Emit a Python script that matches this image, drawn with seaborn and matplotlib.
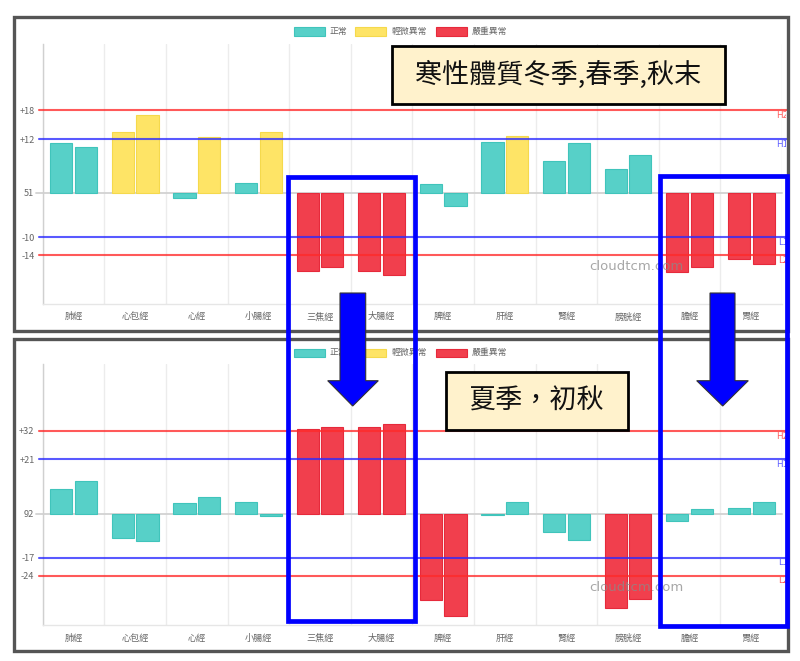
import numpy as np
import pandas as pd
import matplotlib
matplotlib.use("Agg")
import matplotlib.pyplot as plt
from matplotlib.patches import Rectangle, Polygon
from matplotlib.transforms import blended_transform_factory, ScaledTranslation
import seaborn as sns

# ---------------- data ----------------
meridians = ['肺經', '心包經', '心經', '小腸經', '三焦經', '大腸經',
             '脾經', '肝經', '腎經', '膀胱經', '膽經', '胃經']
sides = ['左', '右']

top_left = [11.2, 13.6, -1.1, 2.2, -17.6, -17.6, 2.0, 11.4, 7.2, 5.2, -17.8, -14.8]
top_right = [10.2, 17.4, 12.5, 13.6, -16.7, -18.5, -3.0, 12.6, 11.2, 8.5, -16.6, -16.1]
top_thresholds = [18.5, 12, -10, -14]          # H2, H1, L1, L2
top_thresh_labels = ['+18', '+12', '-10', '-14']
top_zero_label = '51'
top_title = '寒性體質冬季,春季,秋末'

bot_left = [9.7, -9.4, 4.0, 4.6, 32.6, 33.4, -33.5, -0.5, -7.2, -36.4, -2.8, 2.1]
bot_right = [12.8, -10.4, 6.3, -0.9, 33.4, 34.8, -39.6, 4.5, -10.3, -33.1, 1.9, 4.5]
bot_thresholds = [32, 21, -17, -24]
bot_thresh_labels = ['+32', '+21', '-17', '-24']
bot_zero_label = '92'
bot_title = '夏季，初秋'

legend_labels = ['正常', '輕微異常', '嚴重異常']
line_names = ['H2', 'H1', 'L1', 'L2']
watermark = 'cloudtcm.com'

# ---------------- style ----------------
sns.set_theme(style='white')
plt.rcParams['font.family'] = ['Noto Sans CJK TC', 'DejaVu Sans']

FILL = ['#57d0c8', '#fee466', '#f13f4d']
EDGE = ['#40c4bb', '#f5d94c', '#e62a3b']
RED_LINE = '#ff2a2a'
BLUE_LINE = '#2a2aff'
LINE_COLORS = [RED_LINE, BLUE_LINE, BLUE_LINE, RED_LINE]
LABEL_COLORS = ['#ff5c5c', '#5c5cff', '#5c5cff', '#ff5c5c']
GRID = '#ececec'
TXT = '#666666'

W, H = 800, 661
fig = plt.figure(figsize=(W / 100, H / 100), dpi=100)
fig.patch.set_facecolor('white')


def fx(x):
    return x / W


def fy(y):
    return 1 - y / H


def axrect(x0, y0, x1, y1):
    return [fx(x0), fy(y1), fx(x1) - fx(x0), fy(y0) - fy(y1)]


def fig_rect(x0, y0, x1, y1, **kw):
    r = Rectangle((fx(x0), fy(y1)), fx(x1) - fx(x0), fy(y0) - fy(y1),
                  transform=fig.transFigure, **kw)
    fig.patches.append(r)
    return r


def status(v, thr):
    h2, h1, l1, l2 = thr
    if v > h2 or v < l2:
        return 2
    if v > h1 or v < l1:
        return 1
    return 0


def panel(y_top, y_bot, left_vals, right_vals, thr, thr_labels, zero_label,
          ylim, frame, title, title_box, legend_y, wm_y):
    # frame interior overlay (for clipped right-side labels)
    fx0, fy0, fx1, fy1 = frame
    ax = fig.add_axes(axrect(42.7, y_top, 782.1, y_bot))
    ax.set_facecolor('none')

    df = pd.DataFrame({
        'meridian': meridians * 2,
        'side': [sides[0]] * len(meridians) + [sides[1]] * len(meridians),
        'value': list(left_vals) + list(right_vals),
    })

    for b in np.arange(-0.5, len(meridians), 1.0):
        ax.axvline(b, color=GRID, lw=1.0, zorder=0)
    ax.axhline(0, xmin=-0.009, xmax=1, color='#d2d2d2', lw=1.3, zorder=1,
               clip_on=False)

    sns.barplot(data=df, x='meridian', y='value', hue='side', order=meridians,
                hue_order=sides, width=0.8, gap=0.1, errorbar=None,
                legend=False, ax=ax, zorder=2)
    for p in ax.patches:
        s = status(p.get_height(), thr)
        p.set_facecolor(FILL[s])
        p.set_edgecolor(EDGE[s])
        p.set_linewidth(0.8)

    for v, c in zip(thr, LINE_COLORS):
        ax.axhline(v, xmin=-0.005, xmax=1.0085, color=c, lw=1.5, alpha=0.78,
                   zorder=3, clip_on=False)

    ax.set_xlim(-0.5, len(meridians) - 0.5)
    ax.set_ylim(*ylim)
    ax.set_xlabel('')
    ax.set_ylabel('')
    ax.grid(False)

    ax.set_yticks([thr[0], thr[1], 0, thr[2], thr[3]])
    ax.set_yticklabels([thr_labels[0], thr_labels[1], zero_label,
                        thr_labels[2], thr_labels[3]])
    ax.tick_params(axis='y', length=0, labelsize=6.6, labelcolor=TXT, pad=6)

    ax.set_xticks(range(len(meridians)))
    ax.set_xticklabels(meridians)
    ax.set_xticks(np.arange(-0.5, len(meridians), 1.0), minor=True)
    ax.tick_params(axis='x', which='major', length=0, labelsize=6.6,
                   labelcolor=TXT, pad=6)
    ax.tick_params(axis='x', which='minor', length=5.5, width=1.0,
                   color=GRID, direction='out')

    for side in ['top', 'right']:
        ax.spines[side].set_visible(False)
    ax.spines['left'].set_color('#d0d0d0')
    ax.spines['left'].set_linewidth(1.0)
    ax.spines['bottom'].set_color('#e6e6e6')
    ax.spines['bottom'].set_linewidth(1.0)

    # overlay axes spanning frame interior to clip right-side line labels
    ov = fig.add_axes(axrect(fx0 + 1.5, fy0 + 1.5, fx1 - 1.5, fy1 - 1.5))
    ov.set_facecolor('none')
    ov.set_xticks([])
    ov.set_yticks([])
    for sp in ov.spines.values():
        sp.set_visible(False)
    tr = blended_transform_factory(fig.transFigure, ax.transData) + \
        ScaledTranslation(0, -5.3 / 100, fig.dpi_scale_trans)
    for v, name, c in zip(thr, line_names, LABEL_COLORS):
        ov.text(fx(788.5), v, name, transform=tr, ha='right', va='center',
                fontsize=6.3, color=c, family=['DejaVu Sans'], clip_on=True)

    # legend
    lx_box = [294, 355.3, 436]
    lx_txt = [330, 391.7, 471.7]
    for i, lab in enumerate(legend_labels):
        fig_rect(lx_box[i], legend_y - 4.2, lx_box[i] + 31, legend_y + 4.2,
                 facecolor=FILL[i], edgecolor=EDGE[i], lw=0.8, zorder=2)
        fig.text(fx(lx_txt[i]), fy(legend_y), lab, ha='left', va='center',
                 fontsize=6.4, color=TXT)

    # watermark
    fig.text(fx(636), fy(wm_y), watermark, ha='center', va='center',
             fontsize=9.5, color='#8a8a8a', alpha=0.75, family=['DejaVu Sans'],
             zorder=4)

    # title box
    bx0, by0, bx1, by1 = title_box
    fig_rect(bx0, by0, bx1, by1, facecolor='#fff2cc', edgecolor='black',
             lw=2.0, zorder=3)
    fig.text(fx((bx0 + bx1) / 2), fy((by0 + by1) / 2), title, ha='center',
             va='center', fontsize=19.5, color='#111111', zorder=4)

    # outer frame
    fig_rect(fx0, fy0, fx1, fy1, facecolor='none', edgecolor='#555555',
             lw=2.4, zorder=5)
    return ax


panel(44, 304, top_left, top_right, top_thresholds, top_thresh_labels,
      top_zero_label, (-24.96, 33.34), (14.3, 16.7, 787.8, 330.5),
      top_title, (391.7, 46, 725, 104.3), 31.7, 267)

panel(364.3, 625.3, bot_left, bot_right, bot_thresholds, bot_thresh_labels,
      bot_zero_label, (-43.2, 57.77), (14.3, 338.7, 788.3, 651),
      bot_title, (445.7, 372.3, 628.3, 430), 352.8, 587.3)

# blue highlight rectangles
fig_rect(288.3, 176.5, 415, 621, facecolor='none', edgecolor='#0000ff',
         lw=3.4, zorder=6)
fig_rect(659.7, 176.3, 786.7, 626.3, facecolor='none', edgecolor='#0000ff',
         lw=3.4, zorder=6)


# arrows
def arrow(cx, sx0, sx1, hx0, hx1, top, base, tip):
    pts = [(sx0, top), (sx1, top), (sx1, base), (hx1, base), (cx, tip),
           (hx0, base), (sx0, base)]
    poly = Polygon([(fx(x), fy(y)) for x, y in pts], closed=True,
                   transform=fig.transFigure, facecolor='#0000ff',
                   edgecolor='#333333', lw=0.8, zorder=7)
    fig.patches.append(poly)


arrow(352.7, 340, 365.7, 327.7, 378.3, 293, 380.7, 406)
arrow(722.7, 710, 735, 696.7, 748.3, 293, 380.7, 406)

fig.savefig('out.png', dpi=100, facecolor='white')
